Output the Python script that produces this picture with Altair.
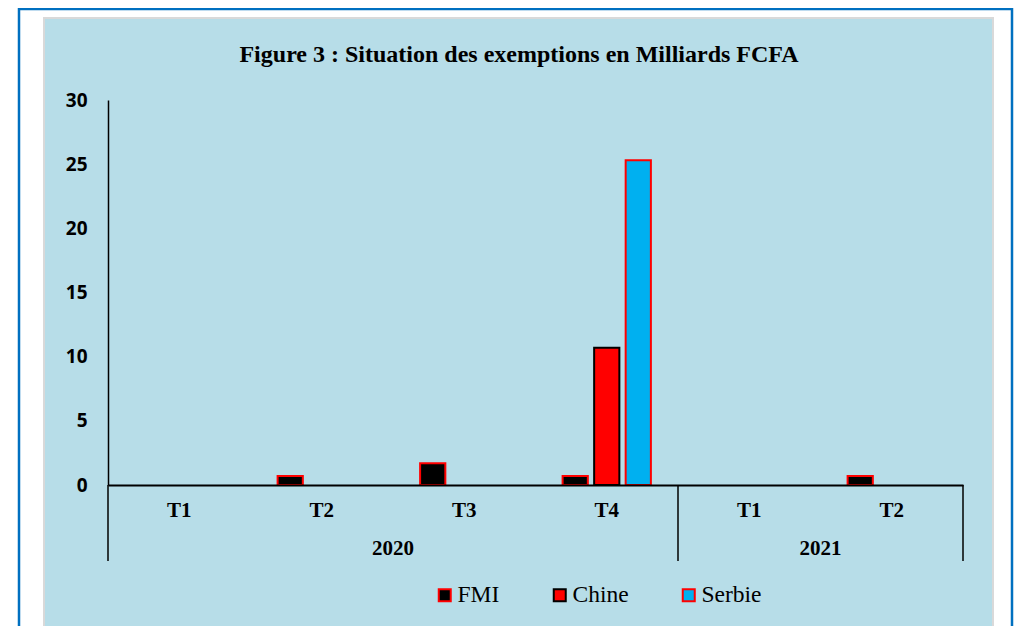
import altair as alt
import pandas as pd

title_text = ["Figure 3 : Situation des exemptions en Milliards FCFA"]
years = ["2020", "2020", "2020", "2020", "2021", "2021"]
quarters = ["T1", "T2", "T3", "T4", "T1", "T2"]
series = ["FMI", "Chine", "Serbie"]
fmi = [0, 0.7, 1.7, 0.7, 0, 0.7]
chine = [0, 0, 0, 10.7, 0, 0]
serbie = [0, 0, 0, 25.3, 0, 0]
fills = ["#000000", "#ff0000", "#00b0f0"]
strokes = ["#ff0000", "#000000", "#ff0000"]

cats = [f"{y}-{q}" for y, q in zip(years, quarters)]
rows = []
for i, c in enumerate(cats):
    for s, vals in zip(series, [fmi, chine, serbie]):
        rows.append({"cat": c, "serie": s, "value": vals[i]})
df = pd.DataFrame(rows)

year_labels = pd.DataFrame({"year": ["2020", "2021"], "anchor": ["2020-T3", "2021-T2"]})
sep_start = pd.DataFrame({"cat": ["2020-T1", "2021-T1"]})
sep_end = pd.DataFrame({"cat": ["2021-T2"]})

W, H = 855, 385
xscale = alt.Scale(domain=cats, paddingInner=0, paddingOuter=0)
one = pd.DataFrame({"k": [0]})

panel = alt.Chart(one).mark_rect(fill="#b7dde8", stroke="#d9d9d9", strokeWidth=2).encode(
    x=alt.value(-64), x2=alt.value(885), y=alt.value(-82), y2=alt.value(540)
)
border = alt.Chart(one).mark_rect(fill=None, stroke="#0070c0", strokeWidth=2.5).encode(
    x=alt.value(-89), x2=alt.value(904), y=alt.value(-91), y2=alt.value(600)
)
title = alt.Chart(pd.DataFrame({"t": title_text})).mark_text(
    font="Liberation Serif", fontSize=24, fontWeight="bold", color="#000000", baseline="middle"
).encode(x=alt.value(411), y=alt.value(-45), text="t:N")

bars = alt.Chart(df).transform_filter("datum.value > 0").mark_bar(strokeWidth=2).encode(
    x=alt.X("cat:N", scale=xscale,
            axis=alt.Axis(title=None, labelAngle=0, ticks=False, domainColor="#000000",
                          domainWidth=1.8, labelExpr="split(datum.label, '-')[1]",
                          labelFont="Liberation Serif", labelFontWeight="bold",
                          labelFontSize=21, labelColor="#000000", labelPadding=14,
                          zindex=1)),
    xOffset=alt.XOffset("serie:N", scale=alt.Scale(domain=series, paddingInner=0.2, paddingOuter=0.86)),
    y=alt.Y("value:Q", scale=alt.Scale(domain=[0, 30], nice=False),
            axis=alt.Axis(title=None, values=[0, 5, 10, 15, 20, 25, 30], ticks=False, grid=False,
                          domainColor="#000000", domainWidth=1.5, labelFont="Open Sans",
                          labelFontWeight="bold", labelFontSize=19, labelColor="#000000",
                          labelPadding=21, zindex=1)),
    color=alt.Color("serie:N", scale=alt.Scale(domain=series, range=fills),
                    legend=alt.Legend(title=None, orient="none", direction="horizontal",
                                      legendX=325, legendY=483, symbolType="square",
                                      symbolSize=144, symbolStrokeWidth=2,
                                      labelFont="Liberation Serif", labelFontSize=23.5,
                                      labelColor="#000000", columnPadding=48,
                                      labelOffset=1, zindex=1)),
    stroke=alt.Stroke("serie:N", scale=alt.Scale(domain=series, range=strokes)),
)

rules1 = alt.Chart(sep_start).mark_rule(color="#000000", strokeWidth=1.5).encode(
    x=alt.X("cat:N", scale=xscale, bandPosition=0),
    y=alt.value(H), y2=alt.value(H + 76),
)
rules2 = alt.Chart(sep_end).mark_rule(color="#000000", strokeWidth=1.5).encode(
    x=alt.X("cat:N", scale=xscale, bandPosition=1),
    y=alt.value(H), y2=alt.value(H + 76),
)
ytext = alt.Chart(year_labels).mark_text(font="Liberation Serif", fontWeight="bold",
                                         fontSize=21, color="#000000", baseline="middle").encode(
    x=alt.X("anchor:N", scale=xscale, bandPosition=0),
    y=alt.value(H + 64),
    text="year:N",
)

chart = alt.layer(panel, border, title, bars, rules1, rules2, ytext).properties(
    width=W, height=H,
    autosize=alt.AutoSizeParams(type="none"),
    padding={"left": 100, "top": 92, "right": 51, "bottom": 141},
    background="white",
).configure_view(stroke=None)

chart.save("out.html", embed_options={"renderer": "svg", "actions": False})
